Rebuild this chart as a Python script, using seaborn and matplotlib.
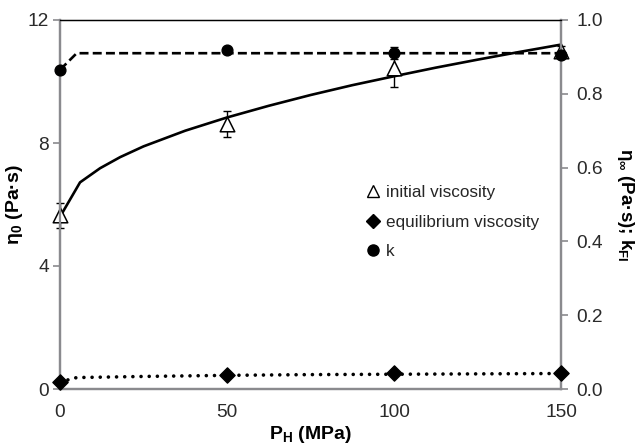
import numpy as np
import pandas as pd
import matplotlib
matplotlib.use("Agg")
import matplotlib.pyplot as plt
from matplotlib.lines import Line2D
import seaborn as sns

# measured points
pressure = [0, 50, 100, 150]
eta0 = [5.65, 8.62, 10.45, 11.0]
eta0_err = [0.4, 0.42, 0.62, 0.15]
eta_inf = [0.019, 0.037, 0.043, 0.043]
k_vals = [0.865, 0.918, 0.91, 0.905]
k_err = [0.0, 0.0, 0.016, 0.0]

# fitted curves
fit_p = [0, 6, 12, 18, 25, 37.5, 50, 62.5, 75, 87.5, 100, 112.5, 125, 137.5, 150]
fit_eta0 = [5.6, 6.72, 7.18, 7.54, 7.89, 8.40, 8.83, 9.21, 9.56, 9.88, 10.17, 10.45, 10.71, 10.96, 11.20]
fit_k_p = [0, 5, 150]
fit_k = [0.865, 0.91, 0.91]
fit_inf_p = [0, 5, 25, 50, 75, 100, 125, 150]
fit_inf = [0.019, 0.031, 0.034, 0.037, 0.039, 0.040, 0.041, 0.042]

sns.set_theme(style="white")
plt.rcParams['font.family'] = ['Liberation Sans', 'DejaVu Sans']
plt.rcParams['mathtext.fontset'] = 'custom'
plt.rcParams['mathtext.rm'] = 'Liberation Sans:bold'
plt.rcParams['mathtext.bf'] = 'Liberation Sans:bold'
plt.rcParams['mathtext.it'] = 'Liberation Sans:bold'

grey = '#8a8a8e'
txt = '#2a2a2a'

fig = plt.figure(figsize=(6.37, 4.48), dpi=100)
ax = fig.add_axes([60/637, 1-389/448, 501/637, 369/448])
ax2 = ax.twinx()

d0 = pd.DataFrame({'P': fit_p, 'y': fit_eta0})
dk = pd.DataFrame({'P': fit_k_p, 'y': fit_k})
di = pd.DataFrame({'P': fit_inf_p, 'y': fit_inf})

sns.lineplot(data=d0, x='P', y='y', ax=ax, color='black', lw=1.9, sort=False)
sns.lineplot(data=dk, x='P', y='y', ax=ax2, color='black', lw=1.9, sort=False,
             linestyle=(0, (3.4, 1.6)))
sns.lineplot(data=di, x='P', y='y', ax=ax2, color='black', lw=2.6, sort=False,
             linestyle=(0, (0.01, 2.25)), dash_capstyle='round')

ax.errorbar(pressure, eta0, yerr=eta0_err, fmt='none', ecolor='black',
            elinewidth=1.0, capsize=3, capthick=1.0, clip_on=False, zorder=4)
ax2.errorbar(pressure, k_vals, yerr=k_err, fmt='none', ecolor='black',
             elinewidth=1.0, capsize=3, capthick=1.0, clip_on=False, zorder=4)

ax.scatter(pressure, eta0, marker='^', s=110, facecolor='white', edgecolor='black',
           linewidth=1.1, zorder=5, clip_on=False)
ax2.scatter(pressure, eta_inf, marker='D', s=60, color='black', zorder=5, clip_on=False)
ax2.scatter(pressure, k_vals, marker='o', s=60, color='black', zorder=5, clip_on=False)

ax.set_xlim(0, 150)
ax.set_ylim(0, 12)
ax2.set_ylim(0, 1.0)
ax.set_xticks([0, 50, 100, 150])
ax.set_yticks([0, 4, 8, 12])
ax2.set_yticks([0, 0.2, 0.4, 0.6, 0.8, 1.0])
ax2.set_yticklabels(['0.0', '0.2', '0.4', '0.6', '0.8', '1.0'])

for a in (ax, ax2):
    for s in ('left', 'right', 'bottom'):
        a.spines[s].set_color(grey)
        a.spines[s].set_linewidth(1.6)
    a.spines['top'].set_color('black')
    a.spines['top'].set_linewidth(0.9)
    a.tick_params(colors=grey, labelcolor=txt, labelsize=13.8, length=5, width=1.2,
                  direction='out')
ax.tick_params(axis='y', pad=3)
ax.tick_params(axis='x', pad=6)
ax2.tick_params(axis='y', pad=6)

ax.set_xlabel('P$_\\mathrm{H}$ (MPa)', fontsize=14, fontweight='bold', color='black',
              labelpad=2)
ax.set_ylabel('η$_\\mathrm{0}$ (Pa·s)', fontsize=14, fontweight='bold', color='black',
              labelpad=2)
ax2.set_ylabel('η$_\\infty$ (Pa·s); k$_\\mathrm{FI}$', fontsize=13.5, fontweight='bold',
               color='black', rotation=270, labelpad=24)

handles = [
    Line2D([], [], marker='^', ls='none', markersize=9, markerfacecolor='white',
           markeredgecolor='black', markeredgewidth=1.0),
    Line2D([], [], marker='D', ls='none', markersize=7, color='black'),
    Line2D([], [], marker='o', ls='none', markersize=8, color='black'),
]
ax2.legend(handles, ['initial viscosity', 'equilibrium viscosity', 'k'],
           loc='upper left', bbox_to_anchor=(368/637, 1-185/448),
           bbox_transform=fig.transFigure, frameon=False, fontsize=12.3,
           handlelength=0.6, handletextpad=0.45, labelspacing=0.86,
           borderaxespad=0, borderpad=0)

fig.savefig('out.png', dpi=100)
